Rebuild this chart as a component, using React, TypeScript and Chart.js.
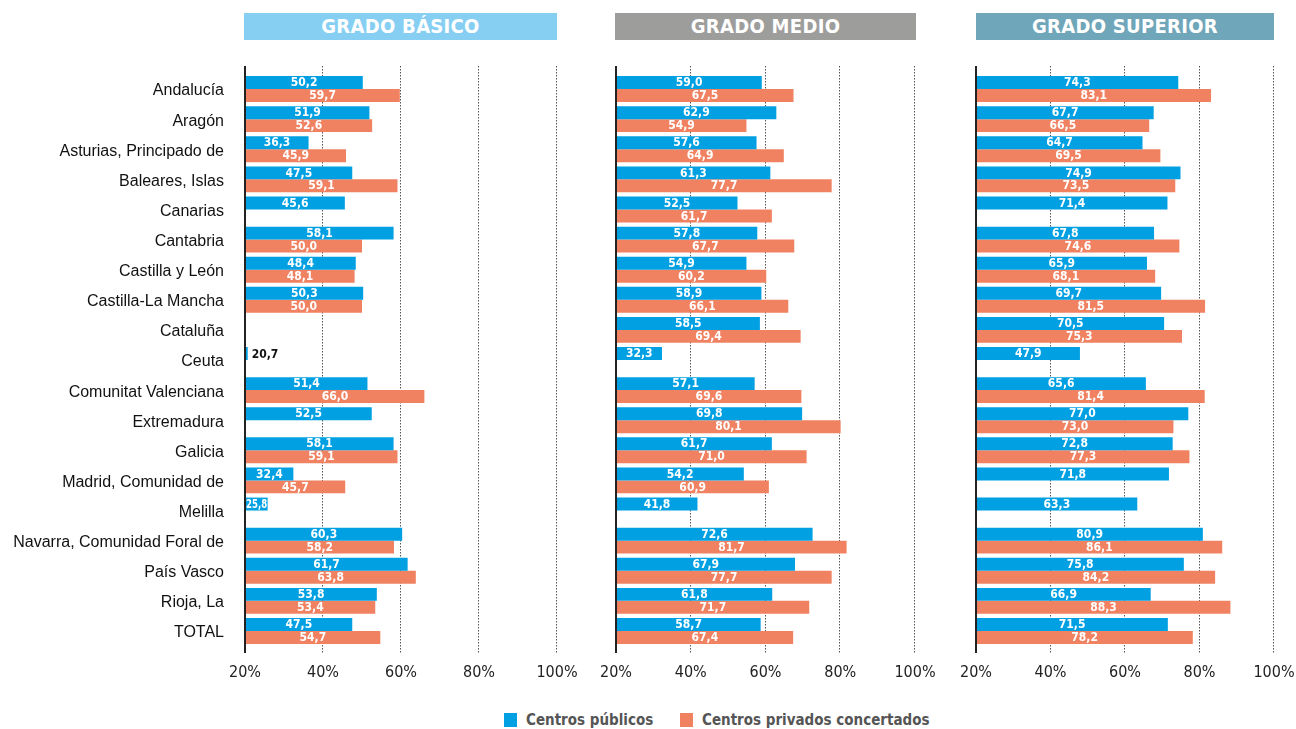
import React, { useEffect, useRef } from "react";
import { Chart, registerables } from "chart.js";

Chart.register(...registerables);

const categories = [
  "Andalucía",
  "Aragón",
  "Asturias, Principado de",
  "Baleares, Islas",
  "Canarias",
  "Cantabria",
  "Castilla y León",
  "Castilla-La Mancha",
  "Cataluña",
  "Ceuta",
  "Comunitat Valenciana",
  "Extremadura",
  "Galicia",
  "Madrid, Comunidad de",
  "Melilla",
  "Navarra, Comunidad Foral de",
  "País Vasco",
  "Rioja, La",
  "TOTAL",
];

const basicoPublicos = [50.2, 51.9, 36.3, 47.5, 45.6, 58.1, 48.4, 50.3, null, 20.7, 51.4, 52.5, 58.1, 32.4, 25.8, 60.3, 61.7, 53.8, 47.5];
const basicoConcertados = [59.7, 52.6, 45.9, 59.1, null, 50.0, 48.1, 50.0, null, null, 66.0, null, 59.1, 45.7, null, 58.2, 63.8, 53.4, 54.7];

const medioPublicos = [59.0, 62.9, 57.6, 61.3, 52.5, 57.8, 54.9, 58.9, 58.5, 32.3, 57.1, 69.8, 61.7, 54.2, 41.8, 72.6, 67.9, 61.8, 58.7];
const medioConcertados = [67.5, 54.9, 64.9, 77.7, 61.7, 67.7, 60.2, 66.1, 69.4, null, 69.6, 80.1, 71.0, 60.9, null, 81.7, 77.7, 71.7, 67.4];

const superiorPublicos = [74.3, 67.7, 64.7, 74.9, 71.4, 67.8, 65.9, 69.7, 70.5, 47.9, 65.6, 77.0, 72.8, 71.8, 63.3, 80.9, 75.8, 66.9, 71.5];
const superiorConcertados = [83.1, 66.5, 69.5, 73.5, null, 74.6, 68.1, 81.5, 75.3, null, 81.4, 73.0, 77.3, null, null, 86.1, 84.2, 88.3, 78.2];

const seriesNames = ["Centros públicos", "Centros privados concertados"];
const panelTitles = ["GRADO BÁSICO", "GRADO MEDIO", "GRADO SUPERIOR"];
const axisMin = 20;
const axisMax = 100;
const axisStep = 20;

const BLUE = "#00A0E3";
const ORANGE = "#F08262";
const HEADER_COLORS = ["#86CFF3", "#9D9D9C", "#70A6B9"];

const COND = "'Liberation Sans Narrow','DejaVu Sans Condensed','Roboto Condensed',Roboto,sans-serif";
const SANS = "'Liberation Sans',Arial,Roboto,sans-serif";

const fmt = (v: number) => v.toFixed(1).replace(".", ",");

const framePlugin = {
  id: "frame",
  beforeDatasetsDraw(chart: any) {
    const { ctx, chartArea, scales } = chart;
    const x = scales.x;
    const top = chartArea.top - 8;
    const bottom = chartArea.bottom + 7;
    ctx.save();
    ctx.strokeStyle = "#555";
    ctx.lineWidth = 1;
    ctx.setLineDash([1.5, 1.5]);
    x.ticks.forEach((t: any) => {
      if (t.value === x.min) return;
      const px = Math.round(x.getPixelForValue(t.value)) - 0.5;
      ctx.beginPath();
      ctx.moveTo(px, top);
      ctx.lineTo(px, bottom);
      ctx.stroke();
    });
    ctx.restore();
  },
  afterDatasetsDraw(chart: any) {
    const { ctx, chartArea, scales } = chart;
    const x = scales.x;
    const top = chartArea.top - 8;
    const bottom = chartArea.bottom + 7;
    ctx.save();
    ctx.strokeStyle = "#222";
    ctx.lineWidth = 2;
    const px = Math.round(x.getPixelForValue(x.min));
    ctx.beginPath();
    ctx.moveTo(px, top);
    ctx.lineTo(px, bottom);
    ctx.stroke();
    ctx.restore();
  },
};

const valueLabelPlugin = {
  id: "valueLabels",
  afterDatasetsDraw(chart: any) {
    const { ctx } = chart;
    ctx.save();
    ctx.font = `bold 12px ${COND}`;
    ctx.textBaseline = "middle";
    chart.data.datasets.forEach((ds: any, di: number) => {
      const meta = chart.getDatasetMeta(di);
      meta.data.forEach((bar: any, i: number) => {
        const v = ds.data[i];
        if (v === null || v === undefined) return;
        const { x, y, base } = bar.getProps(["x", "y", "base"], true);
        const txt = fmt(v);
        const w = x - base;
        const tw = ctx.measureText(txt).width;
        if (w > 12) {
          ctx.fillStyle = "#FFFFFF";
          ctx.textAlign = "center";
          const cx = (x + base) / 2;
          if (tw > w - 1) {
            const sx = (w - 1) / tw;
            ctx.save();
            ctx.translate(cx, y + 0.5);
            ctx.scale(sx, 1);
            ctx.fillText(txt, 0, 0);
            ctx.restore();
          } else {
            ctx.fillText(txt, cx, y + 0.5);
          }
        } else {
          ctx.fillStyle = "#111111";
          ctx.textAlign = "left";
          ctx.fillText(txt, x + 4, y + 1);
        }
      });
    });
    ctx.restore();
  },
};

type PanelProps = {
  left: number;
  width: number;
  padLeft: number;
  padRight: number;
  showLabels: boolean;
  publicos: (number | null)[];
  concertados: (number | null)[];
};

const CANVAS_H = 700;

function Panel({ left, width, padLeft, padRight, showLabels, publicos, concertados }: PanelProps) {
  const ref = useRef<HTMLCanvasElement | null>(null);
  useEffect(() => {
    if (!ref.current) return;
    const yScale: any = {
      display: showLabels,
      grid: { display: false, drawTicks: false },
      border: { display: false },
      ticks: {
        font: { family: SANS, size: 16 },
        color: "#111",
        padding: 21,
        labelOffset: 2,
        autoSkip: false,
      },
    };
    if (showLabels) {
      yScale.afterFit = (s: any) => {
        s.width = 245;
      };
    }
    const chart = new Chart(ref.current, {
      type: "bar",
      data: {
        labels: categories,
        datasets: [
          {
            label: seriesNames[0],
            data: publicos,
            backgroundColor: BLUE,
            base: axisMin,
            barPercentage: 1,
            categoryPercentage: 0.86,
          },
          {
            label: seriesNames[1],
            data: concertados,
            backgroundColor: ORANGE,
            base: axisMin,
            barPercentage: 1,
            categoryPercentage: 0.86,
          },
        ],
      } as any,
      options: {
        indexAxis: "y",
        animation: false,
        responsive: false,
        maintainAspectRatio: false,
        layout: { padding: { left: padLeft, right: padRight, top: 74, bottom: 0 } },
        plugins: {
          legend: { display: false },
          tooltip: { enabled: false },
        },
        scales: {
          x: {
            min: axisMin,
            max: axisMax,
            ticks: {
              stepSize: axisStep,
              callback: (v: any) => `${v}%`,
              font: { family: COND, size: 16 },
              color: "#222",
              padding: 0,
              maxRotation: 0,
              autoSkip: false,
            },
            grid: {
              display: true,
              drawOnChartArea: false,
              drawTicks: true,
              tickLength: 17,
              color: "rgba(0,0,0,0)",
              tickColor: "rgba(0,0,0,0)",
            },
            border: { display: false },
            afterFit: (s: any) => {
              s.height = CANVAS_H - 646;
            },
          },
          y: yScale,
        },
      } as any,
      plugins: [framePlugin, valueLabelPlugin],
    });
    return () => chart.destroy();
  }, []);
  return (
    <canvas
      ref={ref}
      width={width}
      height={CANVAS_H}
      style={{ position: "absolute", left, top: 0, width, height: CANVAS_H }}
    />
  );
}

const headers = [
  { left: 244, width: 313 },
  { left: 615, width: 301 },
  { left: 976, width: 298 },
];

const legendText: React.CSSProperties = {
  position: "absolute",
  top: 710,
  height: 20,
  lineHeight: "20px",
  fontFamily: COND,
  fontWeight: "bold",
  fontSize: 15,
  color: "#555",
  whiteSpace: "nowrap",
};

export default function App() {
  return (
    <div style={{ position: "absolute", left: 0, top: 0, width: 1296, height: 729, background: "#fff", overflow: "hidden" }}>
      {headers.map((h, i) => (
        <div
          key={i}
          style={{
            position: "absolute",
            left: h.left,
            top: 13,
            width: h.width,
            height: 27,
            background: HEADER_COLORS[i],
            color: "#fff",
            fontFamily: COND,
            fontWeight: "bold",
            fontSize: 20,
            lineHeight: "27px",
            textAlign: "center",
            letterSpacing: 0.3,
          }}
        >
          {panelTitles[i]}
        </div>
      ))}
      <Panel left={0} width={590} padLeft={0} padRight={33} showLabels={true} publicos={basicoPublicos} concertados={basicoConcertados} />
      <Panel left={590} width={355} padLeft={26} padRight={30} showLabels={false} publicos={medioPublicos} concertados={medioConcertados} />
      <Panel left={950} width={346} padLeft={26} padRight={22} showLabels={false} publicos={superiorPublicos} concertados={superiorConcertados} />
      <div style={{ position: "absolute", left: 504, top: 713, width: 13, height: 14, background: BLUE }} />
      <div style={{ ...legendText, left: 526 }}>{seriesNames[0]}</div>
      <div style={{ position: "absolute", left: 680, top: 713, width: 13, height: 14, background: ORANGE }} />
      <div style={{ ...legendText, left: 702 }}>{seriesNames[1]}</div>
    </div>
  );
}
